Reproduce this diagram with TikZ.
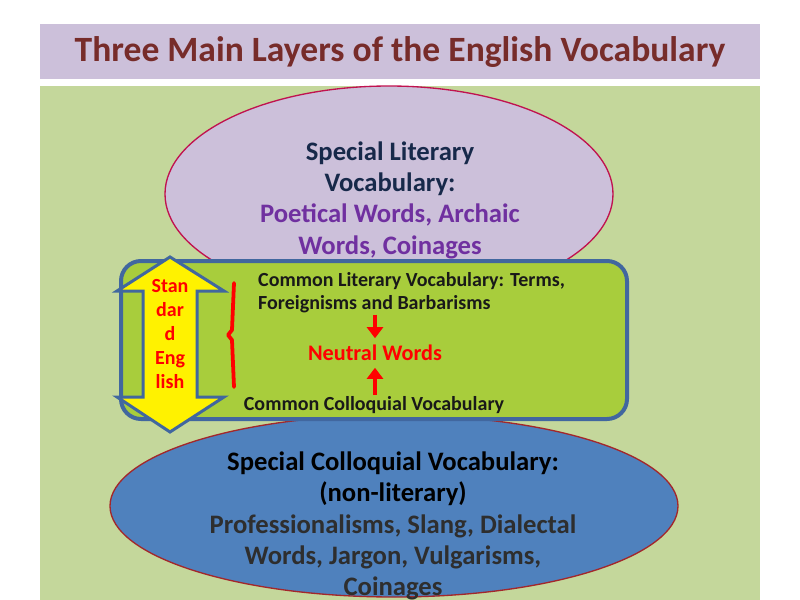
\documentclass[tikz,border=0pt]{standalone}
\usepackage{fontspec}
\setmainfont{Carlito}
\usetikzlibrary{arrows.meta,shapes.geometric}

\definecolor{bandlilac}{HTML}{CCC0DA}
\definecolor{titlered}{HTML}{772C2A}
\definecolor{panelgreen}{HTML}{C4D79B}
\definecolor{rimcrimson}{HTML}{C0124F}
\definecolor{boxgreen}{HTML}{A8CD3C}
\definecolor{boxblue}{HTML}{41679F}
\definecolor{lowblue}{HTML}{4F81BD}
\definecolor{rimred}{HTML}{A3272B}
\definecolor{navytext}{HTML}{17294A}
\definecolor{purpletext}{HTML}{7030A0}
\definecolor{greytext}{HTML}{2E2E2E}

\tikzset{
	bigtext/.style={font=\bfseries\fontsize{24}{28.2}\selectfont, align=center, inner sep=0pt},
	smalltext/.style={font=\bfseries\fontsize{18}{20.7}\selectfont, inner sep=0pt},
	redarrow/.style={draw=red, line width=3.6pt, -{Triangle[width=14.4pt,length=10pt]}, shorten <=1pt, shorten >=6pt}
}

\begin{document}
\begin{tikzpicture}[x=0.9pt,y=-0.9pt]
		\useasboundingbox (0,0) rectangle (800,600);
		% background and title band
		\fill[bandlilac] (40,24) rectangle (760,79);
		\fill[panelgreen] (40,86) rectangle (760,600);
		\node[font=\bfseries\fontsize{32}{38}\selectfont, text=titlered] (title) at (400,52) {Three Main Layers of the English Vocabulary};
		% the two outer layers
		\draw[fill=bandlilac, draw=rimcrimson, line width=1.2pt] (389,194) ellipse (224 and 108);
		\node[bigtext] (special) at (390,200) {\textcolor{navytext}{Special Literary}\\ \textcolor{navytext}{Vocabulary:}\\ \textcolor{purpletext}{Poetical Words, Archaic}\\ \textcolor{purpletext}{Words, Coinages}};
		\draw[fill=lowblue, draw=rimred, line width=1.2pt] (394,506) ellipse (284 and 91);
		% middle layer
		\draw[fill=boxgreen, draw=boxblue, line width=3.6pt, rounded corners=18pt] (121,261) rectangle (627,419);
		\node[bigtext] (colloq) at (393,526) {\textcolor{black}{Special Colloquial Vocabulary:}\\ \textcolor{black}{(non-literary)}\\ \textcolor{greytext}{Professionalisms, Slang, Dialectal}\\ \textcolor{greytext}{Words, Jargon, Vulgarisms,}\\ \textcolor{greytext}{Coinages}};
		\node[smalltext, anchor=west, align=left, text=black!90] (litvoc) at (258,293) {Common Literary Vocabulary: Terms,\\ Foreignisms and Barbarisms};
		\node[font=\bfseries\fontsize{20}{24}\selectfont, text=red, inner sep=0pt] (neutral) at (375,353) {Neutral Words};
		\node[smalltext, text=black!90] (colvoc) at (374,405) {Common Colloquial Vocabulary};
		\draw[redarrow] (litvoc.south -| neutral.north) -- (neutral.north);
		\draw[redarrow] (colvoc.north -| neutral.south) -- (neutral.south);
		% brace
		\draw[red, line width=3.4pt, line cap=round, line join=round] (234,283) -- (232,330) -- (228,335) -- (232,340) -- (234,387);
		% standard english arrow
		\draw[fill=yellow, draw=boxblue, line width=2.7pt, line join=miter] (170,257) -- (224,291) -- (197,291) -- (197,397) -- (224,397) -- (170,432) -- (117,397) -- (143,397) -- (143,291) -- (117,291) -- cycle;
		\node[font=\bfseries\fontsize{18}{21.6}\selectfont, text=red, align=center, inner sep=0pt] (stdeng) at (170,334) {Stan\\dar\\d\\Eng\\lish};
	\end{tikzpicture}
\end{document}
